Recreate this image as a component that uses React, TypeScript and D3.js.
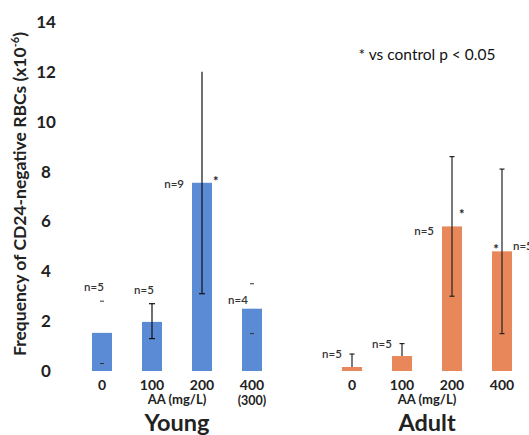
import React from 'react'
import * as d3 from 'd3'

// dose labels per group
const young = ['0', '100', '200', '400']
const adult = ['0', '100', '200', '400']
const youngMean = [1.53, 1.97, 7.55, 2.5]
const youngLow = [0.3, 1.3, 3.1, 1.5]
const youngHigh = [2.8, 2.7, 12.0, 3.5]
const youngN = ['n=5', 'n=5', 'n=9', 'n=4']
const youngSig = [false, false, true, false]
// error bars drawn only as stray dashes for these (no whisker line)
const youngDashOnly = [true, false, false, true]

const adultMean = [0.16, 0.6, 5.8, 4.8]
const adultLow = [0.16, 0.6, 3.0, 1.5]
const adultHigh = [0.68, 1.1, 8.6, 8.1]
const adultN = ['n=5', 'n=5', 'n=5', 'n=5']
const adultSig = [false, false, true, true]

const yTicks = [0, 2, 4, 6, 8, 10, 12, 14]

const W = 529
const H = 435
const font = 'Lato, "Open Sans", sans-serif'

const App = () => {
  const slots = ['y0', 'y1', 'y2', 'y3', 'gap', 'a0', 'a1', 'a2', 'a3']
  const x = d3.scaleBand().domain(slots).range([77, 527]).paddingInner(0.6).paddingOuter(0.3)
  const y = d3.scaleLinear().domain([0, 14]).range([371, 22])
  const bw = x.bandwidth()
  const cx = (k: string) => (x(k) as number) + bw / 2

  const youngCenter = (cx('y0') + cx('y3')) / 2
  const adultCenter = (cx('a0') + cx('a3')) / 2

  return (
    <svg width={W} height={H} style={{ position: 'absolute', left: 0, top: 0, background: '#fff' }}>
      {/* y axis */}
      <text transform={`translate(26,${y(7.1)}) rotate(-90)`} textAnchor="middle" fontFamily={font}
        fontWeight="bold" fontSize={17.5} fill="#222">
        Frequency of CD24-negative RBCs (x10<tspan dy={-7} fontSize={11}>-6</tspan><tspan dy={7}>)</tspan>
      </text>
      {yTicks.map(t => (
        <text key={t} x={46} y={y(t) + 6} textAnchor="middle" fontFamily={font} fontWeight="bold"
          fontSize={17} fill="#222">{t}</text>
      ))}

      {/* young bars */}
      {young.map((d, i) => {
        const k = 'y' + i
        const c = cx(k)
        return (
          <g key={k}>
            <rect x={x(k)} y={y(youngMean[i])} width={bw} height={y(0) - y(youngMean[i])} fill="#5a8bd4" />
            {youngDashOnly[i] ? (
              <g stroke="#333" strokeWidth={1}>
                <line x1={c - 2} x2={c + 2} y1={y(youngHigh[i])} y2={y(youngHigh[i])} />
                <line x1={c - 2} x2={c + 2} y1={y(youngLow[i])} y2={y(youngLow[i])} />
              </g>
            ) : (
              <g stroke="#111" strokeWidth={1.2}>
                <line x1={c} x2={c} y1={y(youngLow[i])} y2={y(youngHigh[i])} />
                {i === 1 && <line x1={c - 3} x2={c + 3} y1={y(youngHigh[i])} y2={y(youngHigh[i])} />}
                <line x1={c - 3} x2={c + 3} y1={y(youngLow[i])} y2={y(youngLow[i])} />
              </g>
            )}
            {i === 2 ? (
              <text x={x(k)! - 8} y={y(youngMean[i]) + 5} textAnchor="end" fontFamily={font} fontSize={11.5}
                fontWeight="600" fill="#333">{youngN[i]}</text>
            ) : i === 3 ? (
              <text x={c - 14} y={y(youngMean[i]) - 5} textAnchor="middle" fontFamily={font} fontSize={11.5}
                fontWeight="600" fill="#333">{youngN[i]}</text>
            ) : (
              <text x={c - 8} y={y(youngHigh[i]) - 10} textAnchor="middle" fontFamily={font} fontSize={11.5}
                fontWeight="600" fill="#333">{youngN[i]}</text>
            )}
            {youngSig[i] && (
              <text x={x(k)! + bw + 1} y={y(youngMean[i]) + 3} fontFamily={font} fontSize={13}
                fontWeight="bold" fill="#222">*</text>
            )}
            <text x={c} y={390} textAnchor="middle" fontFamily={font} fontWeight="bold" fontSize={14}
              fill="#222">{d}</text>
          </g>
        )
      })}
      <text x={cx('y3')} y={405} textAnchor="middle" fontFamily={font} fontWeight="bold" fontSize={12.5}
        fill="#222">(300)</text>
      <text x={youngCenter} y={404} textAnchor="middle" fontFamily={font} fontWeight="bold" fontSize={13}
        fill="#222">AA (mg/L)</text>
      <text x={youngCenter} y={431} textAnchor="middle" fontFamily={font} fontWeight="bold" fontSize={23.5}
        fill="#222">Young</text>

      {/* adult bars */}
      {adult.map((d, i) => {
        const k = 'a' + i
        const c = cx(k)
        return (
          <g key={k}>
            <rect x={x(k)} y={y(adultMean[i])} width={bw} height={y(0) - y(adultMean[i])} fill="#e8875a" />
            <g stroke="#222" strokeWidth={1.2}>
              <line x1={c} x2={c} y1={y(adultLow[i])} y2={y(adultHigh[i])} />
              <line x1={c - 2.5} x2={c + 2.5} y1={y(adultHigh[i])} y2={y(adultHigh[i])} />
              {i >= 2 && <line x1={c - 2.5} x2={c + 2.5} y1={y(adultLow[i])} y2={y(adultLow[i])} />}
            </g>
            {i < 2 ? (
              <text x={c - 20} y={y(adultHigh[i]) + 4} textAnchor="middle" fontFamily={font} fontSize={11.5}
                fontWeight="600" fill="#333">{adultN[i]}</text>
            ) : i === 2 ? (
              <text x={x(k)! - 8} y={y(adultMean[i]) + 9} textAnchor="end" fontFamily={font} fontSize={11.5}
                fontWeight="600" fill="#333">{adultN[i]}</text>
            ) : (
              <text x={x(k)! + bw + 1} y={y(adultMean[i]) - 1} fontFamily={font} fontSize={11.5}
                fontWeight="600" fill="#333">{adultN[i]}</text>
            )}
            {adultSig[i] && (
              i === 3 ? (
                <text x={x(k)! + 4} y={y(adultMean[i]) + 3} textAnchor="middle" fontFamily={font} fontSize={13}
                  fontWeight="bold" fill="#222">*</text>
              ) : (
                <text x={x(k)! + bw - 3} y={y(adultMean[i]) - 7} fontFamily={font} fontSize={13}
                  fontWeight="bold" fill="#222">*</text>
              )
            )}
            <text x={c} y={390} textAnchor="middle" fontFamily={font} fontWeight="bold" fontSize={14}
              fill="#222">{d}</text>
          </g>
        )
      })}
      <text x={adultCenter} y={404} textAnchor="middle" fontFamily={font} fontWeight="bold" fontSize={13}
        fill="#222">AA (mg/L)</text>
      <text x={adultCenter} y={431} textAnchor="middle" fontFamily={font} fontWeight="bold" fontSize={23.5}
        fill="#222">Adult</text>

      <text x={427} y={60} textAnchor="middle" fontFamily={font} fontSize={15.5} fill="#111">
        * vs control p &lt; 0.05
      </text>
    </svg>
  )
}

export default App
